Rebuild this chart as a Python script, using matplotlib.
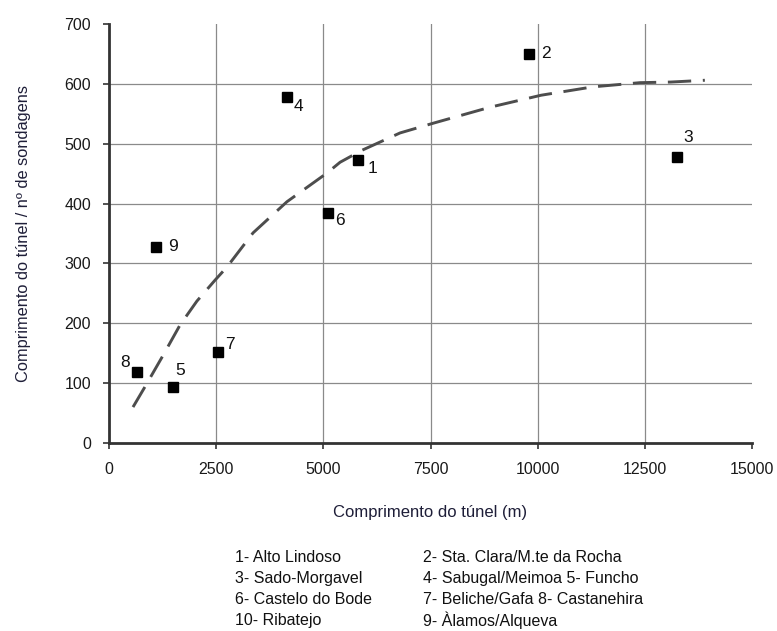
import matplotlib.pyplot as plt

plt.rcParams['font.family'] = ['Liberation Sans', 'DejaVu Sans']

# data
tunnel_length = [5800, 9800, 13250, 4150, 1500, 5100, 2550, 650, 1100]
length_per_probe = [472, 650, 477, 578, 93, 385, 152, 118, 328]
point_labels = ['1', '2', '3', '4', '5', '6', '7', '8', '9']
# label offsets in pixels (dx, dy), dy positive = up
label_offsets = [(15, -8), (17, 0), (11, 20), (12, -9), (7, 17), (12, -8), (12, 8), (-12, 10), (17, 0)]

trend_x = [560, 840, 1250, 1656, 2050, 2473, 2752, 3360, 4150, 5085, 5390, 5900,
           6790, 7600, 8890, 10080, 11290, 12390, 13100, 13900]
trend_y = [60, 94, 145, 197, 237, 272, 294, 351, 403, 451, 469, 489,
           518, 535, 561, 581, 595, 602, 603, 606]

legend_left = ['1- Alto Lindoso', '3- Sado-Morgavel', '6- Castelo do Bode', '10- Ribatejo']
legend_right = ['2- Sta. Clara/M.te da Rocha', '4- Sabugal/Meimoa 5- Funcho',
                '7- Beliche/Gafa 8- Castanehira', '9- Àlamos/Alqueva']

fig = plt.figure(figsize=(7.77, 6.31), dpi=100)
ax = fig.add_axes([109 / 777, (631 - 443) / 631, (752 - 109) / 777, (443 - 24) / 631])

ax.set_xlim(0, 15000)
ax.set_ylim(0, 700)
ax.set_xticks([0, 2500, 5000, 7500, 10000, 12500, 15000])
ax.set_yticks([0, 100, 200, 300, 400, 500, 600, 700])

# grid, skipping the edge lines
for gx in [2500, 5000, 7500, 10000, 12500]:
    ax.axvline(gx, color='#8a8a8a', lw=0.9, zorder=0)
for gy in [100, 200, 300, 400, 500, 600]:
    ax.axhline(gy, color='#8a8a8a', lw=0.9, zorder=0)

ax.plot(trend_x, trend_y, color='#4d4d4d', lw=2.1, dashes=(8, 4), zorder=2)

ax.plot(tunnel_length, length_per_probe, 's', color='black', markersize=7.5, zorder=3)
for x, y, lab, (dx, dy) in zip(tunnel_length, length_per_probe, point_labels, label_offsets):
    ax.annotate(lab, (x, y), xytext=(dx * 0.72, dy * 0.72), textcoords='offset points',
                ha='center', va='center', fontsize=12.5, color='#111111')

for side in ['top', 'right']:
    ax.spines[side].set_visible(False)
for side in ['left', 'bottom']:
    ax.spines[side].set_linewidth(2)
    ax.spines[side].set_color('#333333')

ax.tick_params(axis='both', direction='out', length=4, width=1.2, color='#333333',
               labelsize=11.5, labelcolor='#1a1a1a')
ax.tick_params(axis='x', pad=10)
ax.tick_params(axis='y', pad=9)

ax.set_xlabel('Comprimento do túnel (m)', fontsize=12, color='#1e1e38', labelpad=20)
ax.set_ylabel('Comprimento do túnel / nº de sondagens', fontsize=11.8, color='#1e1e38', labelpad=24)

for i, (left, right) in enumerate(zip(legend_left, legend_right)):
    ypos = 1 - (558 + i * 20.7) / 631
    fig.text(235 / 777, ypos, left, fontsize=11.5, va='center', ha='left', color='#111111')
    fig.text(423 / 777, ypos, right, fontsize=11.5, va='center', ha='left', color='#111111')

fig.savefig('out.png', dpi=100)
